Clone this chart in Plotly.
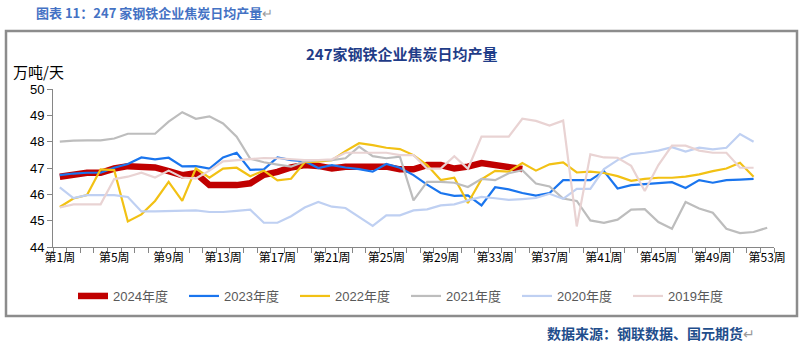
import plotly.graph_objects as go

# Week categories shown on the x axis
weeks = [f"第{i}周" for i in range(1, 54)]
labelled_weeks = ["第1周", "第5周", "第9周", "第13周", "第17周", "第21周", "第25周",
                  "第29周", "第33周", "第37周", "第41周", "第45周", "第49周", "第53周"]

# Daily average coke output of 247 steel mills (10k t/day), by week
y2024 = [46.67, 46.77, 46.82, 46.82, 46.98, 47.07, 47.03, 47.02, 46.88, 46.73,
         46.80, 46.35, 46.35, 46.35, 46.42, 46.74, 46.85, 47.02, 47.11, 47.08,
         46.98, 47.05, 47.05, 47.07, 47.05, 46.95, 46.95, 47.11, 47.11, 46.98,
         47.05, 47.19, 47.12, 47.05, 46.96]

y2023 = [46.73, 46.79, 46.82, 46.82, 47.01, 47.15, 47.40, 47.33, 47.39, 47.06,
         47.07, 46.98, 47.40, 47.58, 46.93, 46.95, 47.40, 47.30, 47.26, 47.00,
         47.11, 47.02, 46.96, 46.86, 47.15, 47.01, 46.73, 46.37, 46.05, 45.94,
         45.96, 45.58, 46.27, 46.19, 46.05, 45.95, 46.05, 46.54, 46.54, 46.54,
         46.88, 46.22, 46.35, 46.39, 46.42, 46.46, 46.24, 46.54, 46.44, 46.54,
         46.56, 46.59]

y2022 = [45.52, 45.84, 45.97, 46.95, 46.92, 44.97, 45.24, 45.75, 46.47, 45.75,
         46.98, 46.63, 46.98, 47.01, 46.69, 46.90, 46.53, 46.59, 47.22, 47.24,
         47.30, 47.64, 47.94, 47.87, 47.77, 47.72, 47.49, 47.11, 46.54, 46.63,
         45.67, 46.57, 46.89, 46.86, 47.19, 46.90, 47.14, 47.21, 46.83, 46.86,
         46.81, 46.69, 46.51, 46.59, 46.63, 46.63, 46.67, 46.76, 46.88, 46.98,
         47.20, 46.67]

y2021 = [48.00, 48.04, 48.05, 48.05, 48.12, 48.30, 48.30, 48.30, 48.76, 49.12,
         48.87, 48.96, 48.69, 48.19, 47.35, 47.22, 47.13, 47.05, 47.25, 47.30,
         47.30, 47.37, 47.81, 47.45, 47.37, 47.43, 45.77, 46.47, 46.47, 46.44,
         46.28, 46.59, 46.54, 46.80, 46.92, 46.41, 46.30, 45.84, 45.75, 45.01,
         44.92, 45.04, 45.42, 45.44, 44.95, 44.69, 45.71, 45.46, 45.30, 44.69,
         44.53, 44.57, 44.73]

y2020 = [46.26, 45.86, 45.97, 45.97, 45.97, 45.90, 45.35, 45.35, 45.37, 45.39,
         45.39, 45.33, 45.33, 45.37, 45.42, 44.92, 44.92, 45.17, 45.50, 45.71,
         45.53, 45.48, 45.14, 44.80, 45.20, 45.20, 45.39, 45.43, 45.58, 45.62,
         45.77, 45.90, 45.85, 45.79, 45.82, 45.86, 46.02, 45.83, 46.21, 46.21,
         46.96, 47.30, 47.53, 47.58, 47.66, 47.79, 47.62, 47.77, 47.71, 47.77,
         48.29, 48.00]

y2019 = [45.50, 45.62, 45.62, 45.62, 46.58, 46.67, 46.82, 46.64, 46.90, 46.64,
         46.60, 46.90, 47.25, 47.30, 47.35, 47.38, 47.37, 47.33, 47.30, 47.30,
         47.33, 47.58, 47.58, 47.58, 47.58, 47.49, 47.49, 46.98, 46.98, 47.45,
         46.97, 48.19, 48.19, 48.19, 48.87, 48.79, 48.61, 48.80, 44.78, 47.52,
         47.40, 47.39, 47.08, 46.13, 47.11, 47.85, 47.85, 47.66, 47.58, 47.58,
         47.01, 47.01]

series = [
    ("2024年度", y2024, "#C00000", 6.5),
    ("2023年度", y2023, "#1A75EE", 2.2),
    ("2022年度", y2022, "#F2C114", 2.2),
    ("2021年度", y2021, "#BDBDBD", 2.2),
    ("2020年度", y2020, "#BFD0F2", 2.2),
    ("2019年度", y2019, "#E9D3D3", 2.2),
]

fig = go.Figure()
for name, vals, color, width in series:
    fig.add_trace(go.Scatter(
        x=weeks[:len(vals)], y=vals, name=name, mode="lines",
        line=dict(color=color, width=width),
    ))

# plot-area geometry in pixels
W, H = 800, 346
L, R, T, B = 53, 774, 89, 247


def px(x):
    return (x - L) / (R - L)


def py(y):
    return (B - y) / (B - T)


cjk = "Noto Sans CJK SC"
latin = "Liberation Sans, Noto Sans CJK SC"

fig.update_layout(
    width=W, height=H,
    margin=dict(l=L, r=W - R, t=T, b=H - B),
    paper_bgcolor="white", plot_bgcolor="white",
    showlegend=True,
    legend=dict(
        orientation="h", x=px(406), xanchor="center", y=py(296), yanchor="middle",
        font=dict(family=latin, size=13, color="#595959"),
        bgcolor="rgba(0,0,0,0)", itemwidth=30,
        entrywidth=66, entrywidthmode="pixels",
    ),
    xaxis=dict(
        type="category", categoryorder="array", categoryarray=weeks,
        range=[-0.5, len(weeks) - 0.5],
        tickvals=weeks, ticktext=[w if w in labelled_weeks else "" for w in weeks],
        tickangle=0,
        tickson="boundaries", ticks="outside", ticklen=5, tickcolor="#868686",
        showline=True, linecolor="#868686", linewidth=1,
        showgrid=False, zeroline=False,
        tickfont=dict(family=cjk, size=12, color="#000000"),
    ),
    yaxis=dict(
        range=[44, 50], tickvals=[44, 45, 46, 47, 48, 49, 50],
        ticks="outside", ticklen=5, tickcolor="#868686",
        showline=True, linecolor="#868686", linewidth=1,
        showgrid=False, zeroline=False,
        tickfont=dict(family=latin, size=13, color="#000000"),
    ),
    shapes=[dict(
        type="rect", xref="paper", yref="paper",
        x0=px(6), x1=px(797), y0=py(316), y1=py(31),
        line=dict(color="#8C8C8C", width=2.5), fillcolor="rgba(0,0,0,0)", layer="below",
    )],
    annotations=[
        dict(text="<b>图表 11：247 家钢铁企业焦炭日均产量</b><span style='color:#9A9A9A'>↵</span>",
             xref="paper", yref="paper", x=px(34), y=py(12), xanchor="left", yanchor="middle",
             showarrow=False, font=dict(family=cjk, size=13, color="#4472C4")),
        dict(text="<b>247家钢铁企业焦炭日均产量</b>",
             xref="paper", yref="paper", x=px(402), y=py(54), xanchor="center", yanchor="middle",
             showarrow=False, font=dict(family=cjk, size=15, color="#1F3C88")),
        dict(text="万吨/天",
             xref="paper", yref="paper", x=px(11), y=py(71), xanchor="left", yanchor="middle",
             showarrow=False, font=dict(family=cjk, size=15, color="#000000")),
        dict(text="<b>数据来源：钢联数据、国元期货</b><span style='color:#9A9A9A'>↵</span>",
             xref="paper", yref="paper", x=px(545), y=py(333), xanchor="left", yanchor="middle",
             showarrow=False, font=dict(family=cjk, size=14, color="#1F4E8C")),
    ],
)

fig.write_html("out.html")
